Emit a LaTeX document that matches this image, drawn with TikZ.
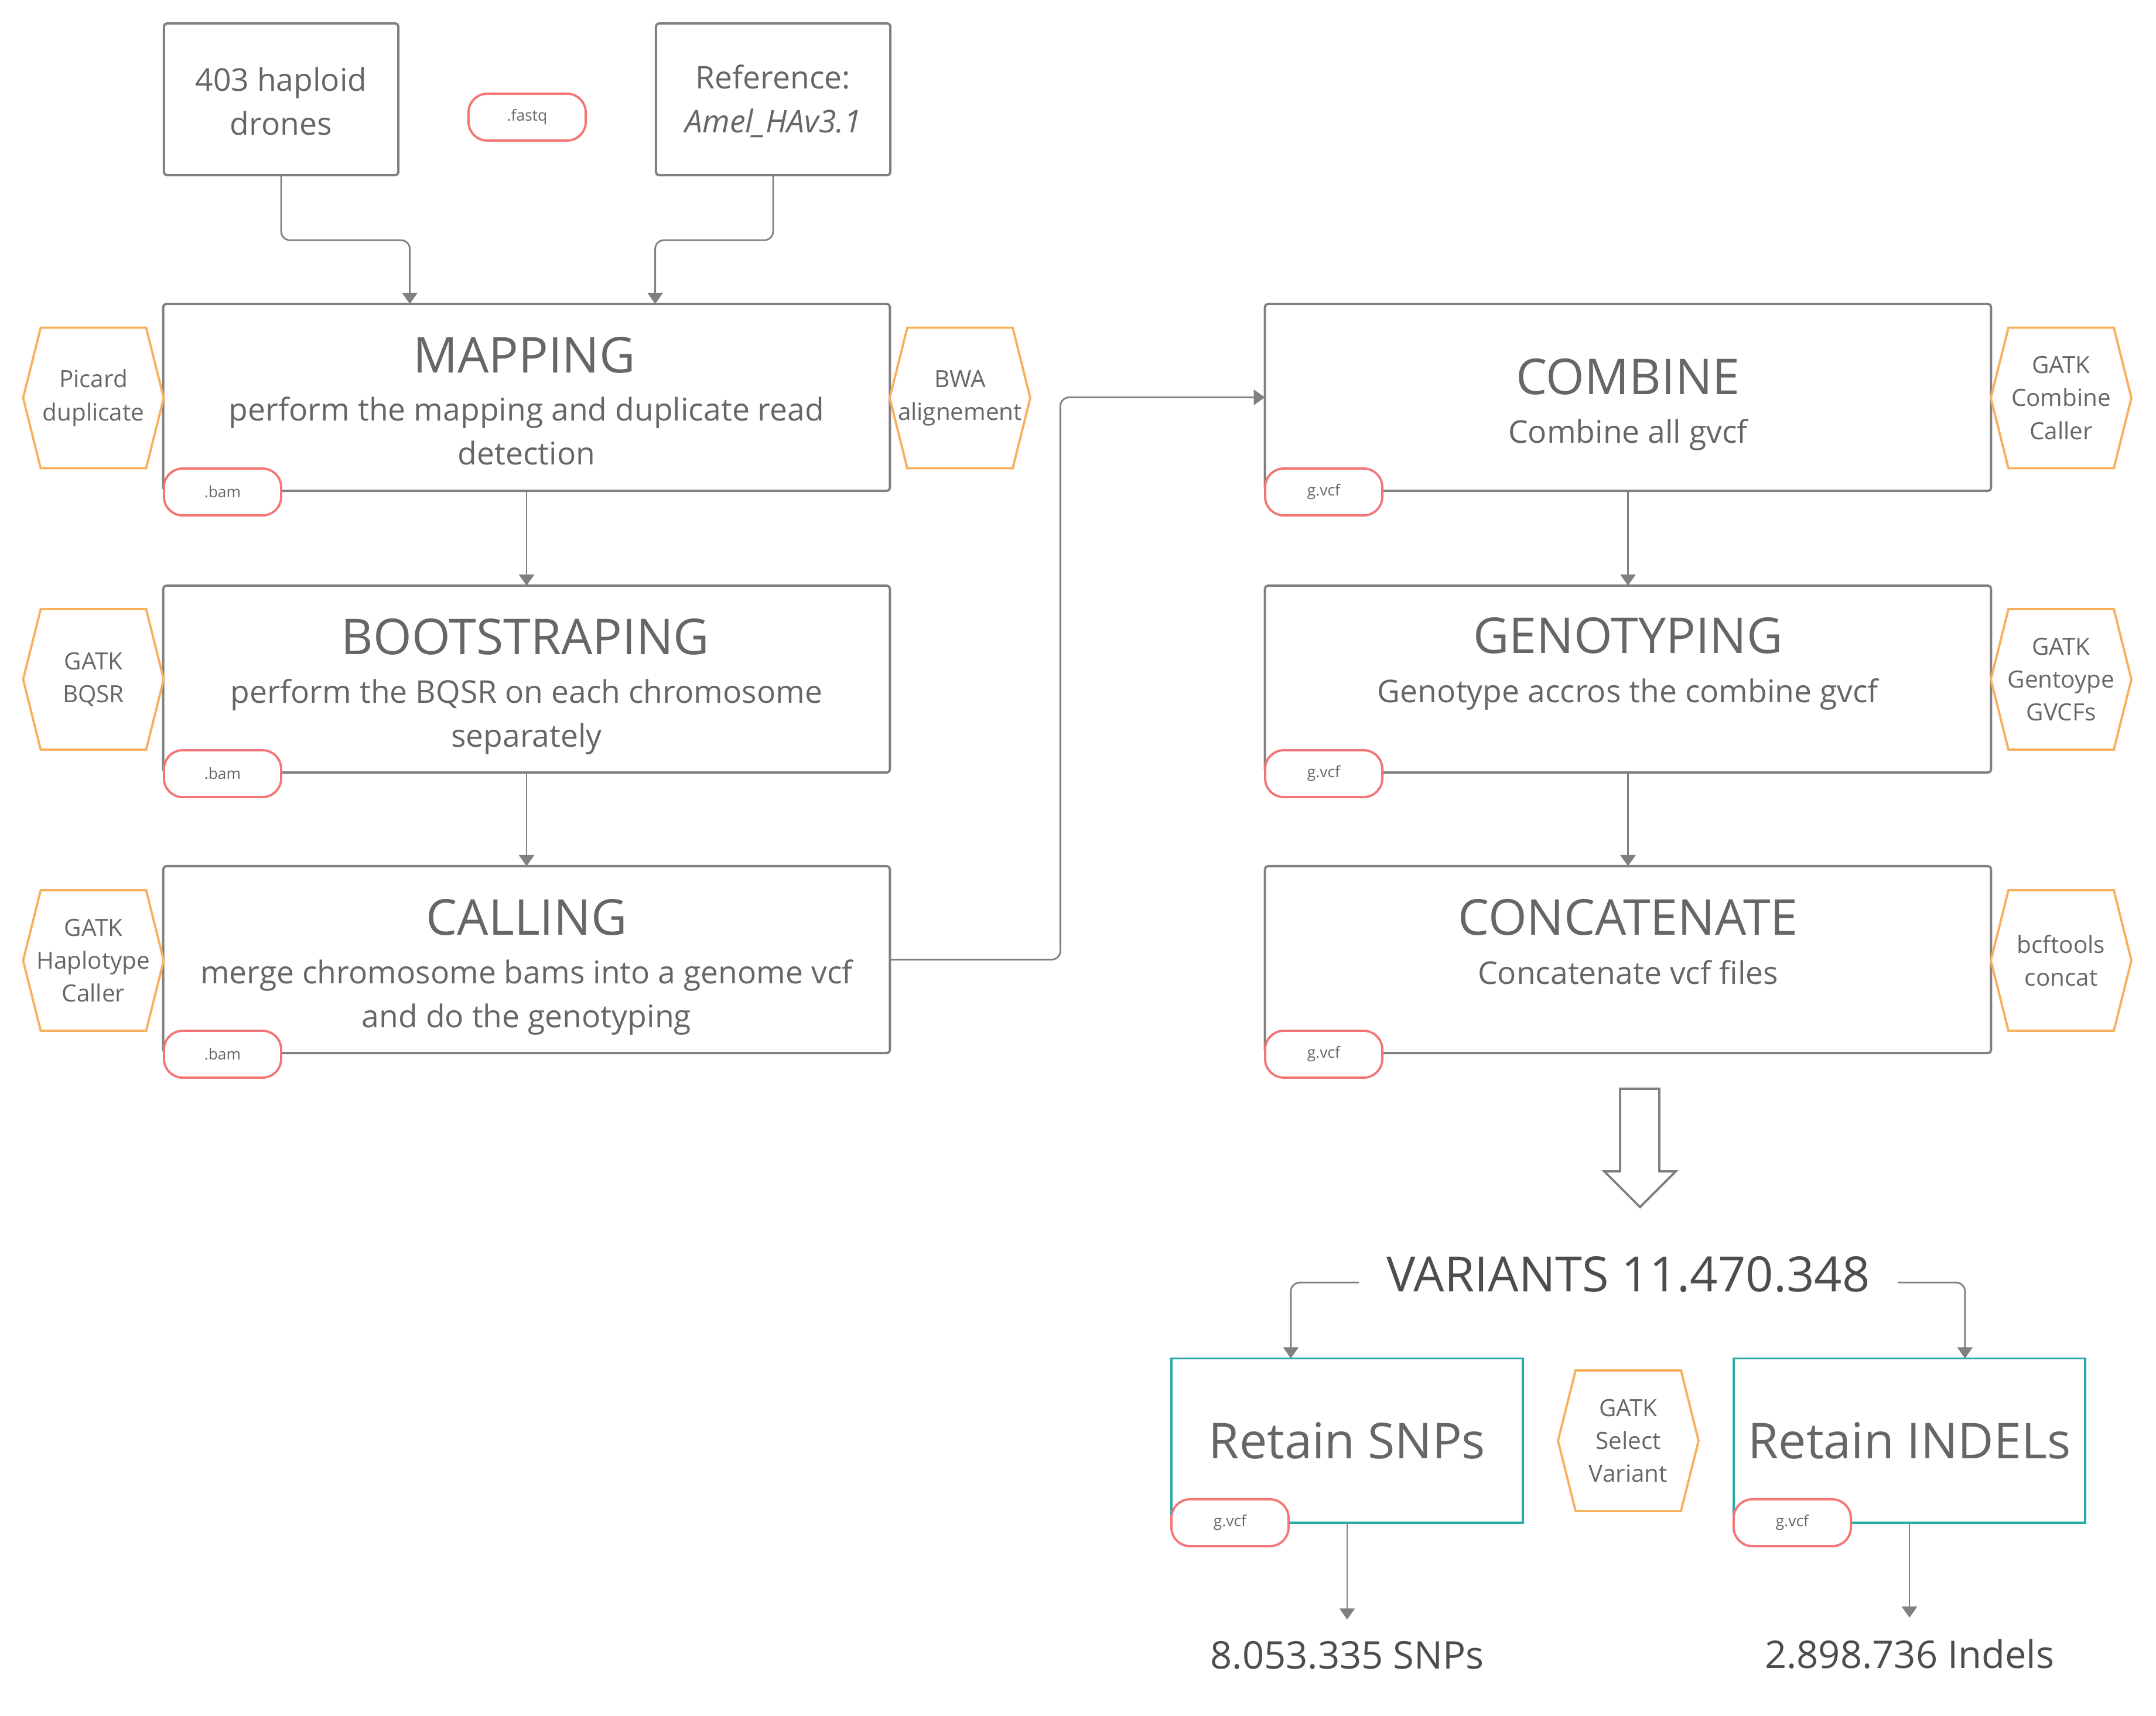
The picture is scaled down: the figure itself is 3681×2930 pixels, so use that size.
\documentclass[tikz,border=0pt]{standalone}
\usepackage{fontspec}
\setmainfont{Open Sans}
\usetikzlibrary{arrows.meta,calc}
\definecolor{linegray}{HTML}{808080}
\definecolor{textgray}{HTML}{666666}
\definecolor{darktext}{HTML}{4D4D4D}
\definecolor{hexorange}{HTML}{F8B05C}
\definecolor{pillred}{HTML}{F47575}
\definecolor{tealc}{HTML}{2AA9A6}
\tikzset{
  stage/.style={draw=linegray, line width=1.1pt, fill=white, rounded corners=1.5pt, inner sep=0pt, outer sep=0pt},
  tealbox/.style={draw=tealc, line width=1.1pt, fill=white, inner sep=0pt, outer sep=0pt},
  pill/.style={draw=pillred, line width=1.1pt, fill=white, rounded corners=0.32cm, minimum width=2cm, minimum height=0.8cm, inner sep=0pt, font=\fontsize{7.5}{9}\selectfont, text=textgray},
  hexline/.style={draw=hexorange, line width=1.1pt, fill=white},
  hextext/.style={align=center, font=\fontsize{11.5}{16}\selectfont, text=textgray},
  ttl/.style={font=\fontsize{24}{28}\selectfont, text=textgray, inner sep=0pt},
  subt/.style={font=\fontsize{15.2}{21.3}\selectfont, text=textgray, align=center, inner sep=0pt},
  bigtext/.style={font=\fontsize{23.6}{28}\selectfont, text=darktext, inner sep=0pt},
  numtext/.style={font=\fontsize{18.5}{22}\selectfont, text=darktext, inner xsep=0pt, inner ysep=0.36cm},
  conn/.style={draw=linegray, line width=0.8pt, rounded corners=0.15cm, -{Triangle[width=7.4pt,length=5.4pt]}}
}
\newcommand\hexbox[4]{%
  \draw[hexline] (#2-120,#3) -- (#2-90,#3-120) -- (#2+90,#3-120) -- (#2+120,#3) -- (#2+90,#3+120) -- (#2-90,#3+120) -- cycle;
  \node[hextext] (#1) at (#2,#3) {#4};}
\begin{document}
\begin{tikzpicture}[x=0.01cm, y=-0.01cm]
\useasboundingbox (0,0) rectangle (3681,2930);
\fill[white] (0,0) rectangle (3681,2930);

% top inputs
\node[stage, minimum width=4.0cm, minimum height=2.59cm] (drones) at (480,169.5) {};
\node[subt] (dronesT) at (480,173) {403 haploid\\drones};
\node[stage, minimum width=4.0cm, minimum height=2.59cm] (ref) at (1320,169.5) {};
\node[subt] (refT) at (1320,173) {Reference:\\\itshape Amel\_HAv3.1};
\node[pill] (fastq) at (900,200) {.fastq};

% left column
\node[stage, minimum width=12.40cm, minimum height=3.19cm] (map) at (899,678.5) {};
\node[stage, minimum width=12.40cm, minimum height=3.19cm] (boot) at (899,1159.5) {};
\node[stage, minimum width=12.40cm, minimum height=3.19cm] (call) at (899,1638.5) {};
\node[ttl] (mapT) at (895,606) {MAPPING};
\node[subt] (mapS) at (899,736) {perform the mapping and duplicate read\\detection};
\node[ttl] (bootT) at (897,1087) {BOOTSTRAPING};
\node[subt] (bootS) at (899,1224) {perform the BQSR on each chromosome\\separately};
\node[ttl] (callT) at (899,1566) {CALLING};
\node[subt] (callS) at (899,1703) {merge chromosome bams into a genome vcf\\and do the genotyping};

% right column
\node[stage, minimum width=12.39cm, minimum height=3.19cm] (comb) at (2779.5,678.5) {};
\node[stage, minimum width=12.39cm, minimum height=3.19cm] (geno) at (2779.5,1159.5) {};
\node[stage, minimum width=12.39cm, minimum height=3.19cm] (conc) at (2779.5,1638.5) {};
\node[ttl] (combT) at (2779.5,643.5) {COMBINE};
\node[subt] (combS) at (2779.5,742) {Combine all gvcf};
\node[ttl] (genoT) at (2779.5,1085.5) {GENOTYPING};
\node[subt] (genoS) at (2779.5,1185) {Genotype accros the combine gvcf};
\node[ttl] (concT) at (2779.5,1566) {CONCATENATE};
\node[subt] (concS) at (2779.5,1660) {Concatenate vcf files};

% pills
\node[pill] (mapP) at (380,840) {.bam};
\node[pill] (bootP) at (380,1321) {.bam};
\node[pill] (callP) at (380,1800) {.bam};
\node[pill] (combP) at (2260,840) {g.vcf};
\node[pill] (genoP) at (2260,1321) {g.vcf};
\node[pill] (concP) at (2260,1800) {g.vcf};

% hexagons
\hexbox{hpic}{159.5}{679.5}{Picard\\duplicate}
\hexbox{hbwa}{1639}{679.5}{BWA\\alignement}
\hexbox{hbqsr}{159.5}{1160}{GATK\\BQSR}
\hexbox{hhap}{159.5}{1640}{GATK\\Haplotype\\Caller}
\hexbox{hcomb}{3519}{679.5}{GATK\\Combine\\Caller}
\hexbox{hgeno}{3519}{1160}{GATK\\Gentoype\\GVCFs}
\hexbox{hbcf}{3519}{1640}{bcftools\\concat}

% connectors
\draw[conn] (drones.south) -- ++(0,111) -| ($(map.north west)+(421,0)$);
\draw[conn] (ref.south) -- ++(0,111) -| ($(map.north west)+(840,0)$);
\draw[conn] (map.south) -- (boot.north);
\draw[conn] (boot.south) -- (call.north);
\draw[conn] (call.east) -- ++(291,0) |- (comb.west);
\draw[conn] (comb.south) -- (geno.north);
\draw[conn] (geno.south) -- (conc.north);

% hollow arrow
\draw[linegray, line width=1.1pt, line join=miter] (2766,1859) -- (2833,1859) -- (2833,2000) -- (2861,2000) -- (2800,2061) -- (2739,2000) -- (2766,2000) -- cycle;

% variants
\node[bigtext] (var) at (2780,2176) {VARIANTS 11.470.348};
\node[tealbox, minimum width=6.0cm, minimum height=2.8cm] (snp) at (2300,2459.5) {};
\node[tealbox, minimum width=6.0cm, minimum height=2.8cm] (ind) at (3260,2459.5) {};
\node[ttl] (snpT) at (2300,2460) {Retain SNPs};
\node[ttl] (indT) at (3260,2460) {Retain INDELs};
\node[pill] (snpP) at (2100,2600) {g.vcf};
\node[pill] (indP) at (3060,2600) {g.vcf};
\hexbox{hsel}{2780}{2460}{GATK\\Select\\Variant}
\draw[conn] ($(var.center)+(-460,14)$) -| ($(snp.north west)+(204,0)$);
\draw[conn] ($(var.center)+(460,14)$) -| ($(ind.north west)+(395,0)$);
\node[numtext] (snpN) at (2300,2826) {8.053.335 SNPs};
\node[numtext] (indN) at (3260,2824) {2.898.736 Indels};
\draw[conn] (snp.south) -- (snpN.north);
\draw[conn] (ind.south) -- (indN.north);
\end{tikzpicture}
\end{document}
